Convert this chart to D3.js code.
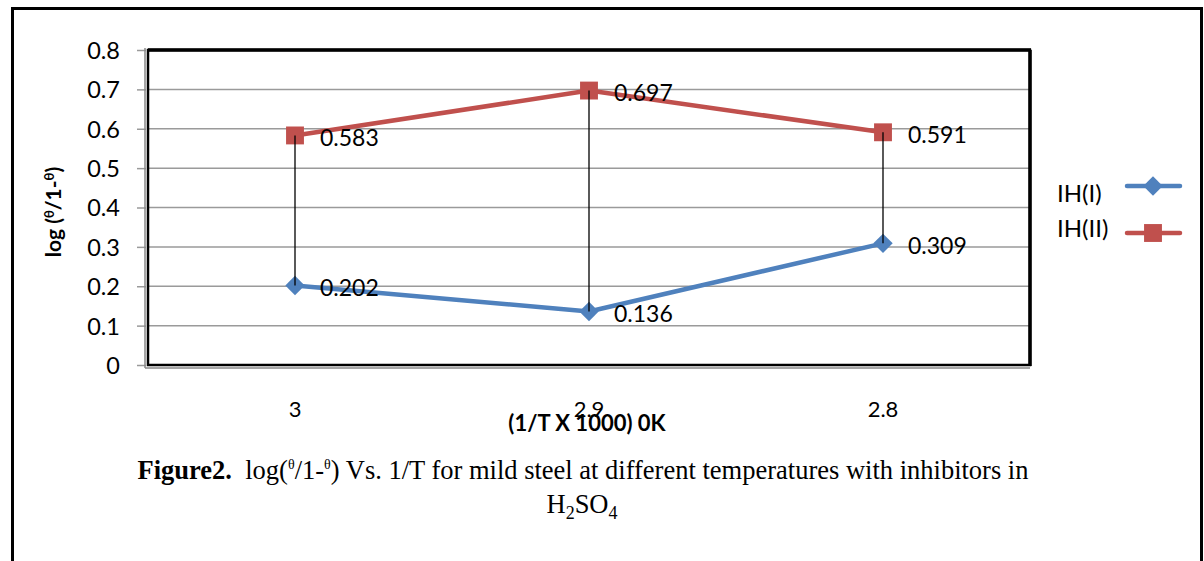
<!DOCTYPE html>
<html><head><meta charset="utf-8">
<script src="https://cdn.jsdelivr.net/npm/d3@7/dist/d3.min.js"></script>
<style>body{margin:0;background:#fff}svg{display:block}.cap{font-family:"Liberation Serif","Times New Roman",Times,serif}</style>
</head><body>
<svg id="c" width="1204" height="561"></svg>
<script>
const categories = ["3", "2.9", "2.8"];
const seriesNames = ["IH(I)", "IH(II)"];
const ih1 = [0.202, 0.136, 0.309];
const ih2 = [0.583, 0.697, 0.591];
const yTicks = [0, 0.1, 0.2, 0.3, 0.4, 0.5, 0.6, 0.7, 0.8];
const colors = ["#4F81BD", "#C0504D"];

const svg = d3.select("#c");
const L = 148, R = 1030, T = 50, B = 365;
const x = d3.scaleBand().domain(categories).range([L, R]);
const y = d3.scaleLinear().domain([0, 0.8]).range([B, T]);
const cx = c => x(c) + x.bandwidth() / 2;
const font = "Lato, 'Open Sans', sans-serif";

// outer frame
svg.append("path").attr("d", "M12.5,561 V8.5 H1201.5 V561").attr("fill", "none").attr("stroke", "#000").attr("stroke-width", 3);

// gridlines
svg.append("g").selectAll("line").data(yTicks.filter(d => d > 0 && d < 0.8)).join("line")
  .attr("x1", L).attr("x2", R).attr("y1", d => y(d)).attr("y2", d => y(d))
  .attr("stroke", "#9a9a9a").attr("stroke-width", 1.5);

// y axis
const yAxis = d3.axisLeft(y).tickValues(yTicks).tickSize(9).tickPadding(17).tickFormat(d => d === 0 ? "0" : d3.format(".1f")(d));
const ga = svg.append("g").attr("transform", `translate(${L - 2},0)`).call(yAxis);
ga.select(".domain").remove();
ga.selectAll(".tick line").attr("stroke", "#9a9a9a").attr("stroke-width", 1.5);
ga.selectAll(".tick text").attr("font-family", font).attr("font-size", 23.5).attr("fill", "#000").attr("dy", "0.36em");

// x axis labels
const xAxis = d3.axisBottom(x).tickSize(0).tickPadding(36);
const gx = svg.append("g").attr("transform", `translate(0,${B})`).call(xAxis);
gx.select(".domain").remove();
gx.selectAll(".tick text").attr("font-family", font).attr("font-size", 22).attr("fill", "#000");

// plot frame
svg.append("line").attr("x1", L - 3).attr("x2", L - 3).attr("y1", T - 2).attr("y2", B + 3).attr("stroke", "#888").attr("stroke-width", 1.5);
svg.append("line").attr("x1", L - 3).attr("x2", R).attr("y1", B + 3).attr("y2", B + 3).attr("stroke", "#888").attr("stroke-width", 1.5);
svg.append("rect").attr("x", L).attr("y", T).attr("width", R - L).attr("height", B - T)
  .attr("fill", "none").attr("stroke", "#000").attr("stroke-width", 2.5);
svg.append("line").attr("x1", L).attr("x2", R + 1).attr("y1", T).attr("y2", T).attr("stroke", "#000").attr("stroke-width", 3.5);
svg.append("line").attr("x1", R).attr("x2", R).attr("y1", T).attr("y2", B + 1).attr("stroke", "#000").attr("stroke-width", 3.5);

const line = d3.line().x((d, i) => cx(categories[i])).y(d => y(d));
const diamond = d3.symbol().type(d3.symbolDiamond2).size(240);
const square = d3.symbol().type(d3.symbolSquare).size(320);

[ih1, ih2].forEach((vals, si) => {
  svg.append("path").datum(vals).attr("d", line).attr("fill", "none")
    .attr("stroke", colors[si]).attr("stroke-width", 4.5).attr("stroke-linejoin", "round");
});
[ih1, ih2].forEach((vals, si) => {
  svg.append("g").selectAll("path").data(vals).join("path")
    .attr("transform", (d, i) => `translate(${cx(categories[i])},${y(d)})`)
    .attr("d", si === 0 ? diamond : square).attr("fill", colors[si]);
});
// high-low lines (drawn on top of markers, as in the reference)
svg.append("g").selectAll("line").data(categories).join("line")
  .attr("x1", d => cx(d)).attr("x2", d => cx(d))
  .attr("y1", (d, i) => y(ih1[i])).attr("y2", (d, i) => y(ih2[i]))
  .attr("stroke", "#000").attr("stroke-width", 1.3);

// data labels
[ih1, ih2].forEach((vals) => {
  svg.append("g").selectAll("text").data(vals).join("text")
    .attr("x", (d, i) => cx(categories[i]) + 25).attr("y", d => y(d) + 2)
    .attr("dy", "0.36em").attr("font-family", font).attr("font-size", 23).attr("fill", "#000")
    .text(d => d3.format(".3f")(d));
});

// axis titles
svg.append("text").attr("x", 587).attr("y", 431).attr("text-anchor", "middle")
  .attr("font-family", font).attr("font-weight", "bold").attr("font-size", 22).text("(1/T X 1000) 0K");
const yt = svg.append("text").attr("transform", "translate(61,212) rotate(-90)").attr("text-anchor", "middle")
  .attr("font-family", font).attr("font-weight", "bold").attr("font-size", 21);
yt.append("tspan").text("log (");
yt.append("tspan").attr("dy", -7).attr("font-size", 13).text("θ");
yt.append("tspan").attr("dy", 7).text("/1-");
yt.append("tspan").attr("dy", -7).attr("font-size", 13).text("θ");
yt.append("tspan").attr("dy", 7).text(")");

// legend
const lg = svg.append("g");
const legendText = [193, 228], legendLine = [186, 233];
seriesNames.forEach((n, i) => {
  lg.append("text").attr("x", 1057).attr("y", legendText[i]).attr("dy", "0.36em")
    .attr("font-family", font).attr("font-size", 24).text(n);
  lg.append("line").attr("x1", 1127).attr("x2", 1180).attr("y1", legendLine[i]).attr("y2", legendLine[i])
    .attr("stroke", colors[i]).attr("stroke-width", 4.5).attr("stroke-linecap", "round");
  lg.append("path").attr("transform", `translate(1153,${legendLine[i]})`).attr("d", i === 0 ? diamond : square).attr("fill", colors[i]);
});

// caption
const cap = svg.append("text").attr("class", "cap").attr("x", 583).attr("y", 479).attr("text-anchor", "middle").attr("font-size", 26.5);
cap.append("tspan").attr("font-weight", "bold").text("Figure2.");
cap.append("tspan").text("\u00a0 log(");
cap.append("tspan").attr("dy", -10).attr("font-size", 14).text("θ");
cap.append("tspan").attr("dy", 10).text("/1-");
cap.append("tspan").attr("dy", -10).attr("font-size", 14).text("θ");
cap.append("tspan").attr("dy", 10).text(") Vs. 1/T for mild steel at different temperatures with inhibitors in");
const cap2 = svg.append("text").attr("class", "cap").attr("x", 582).attr("y", 513).attr("text-anchor", "middle").attr("font-size", 26.5);
cap2.append("tspan").text("H");
cap2.append("tspan").attr("dy", 6).attr("font-size", 18).text("2");
cap2.append("tspan").attr("dy", -6).text("SO");
cap2.append("tspan").attr("dy", 6).attr("font-size", 18).text("4");
</script>
</body></html>
